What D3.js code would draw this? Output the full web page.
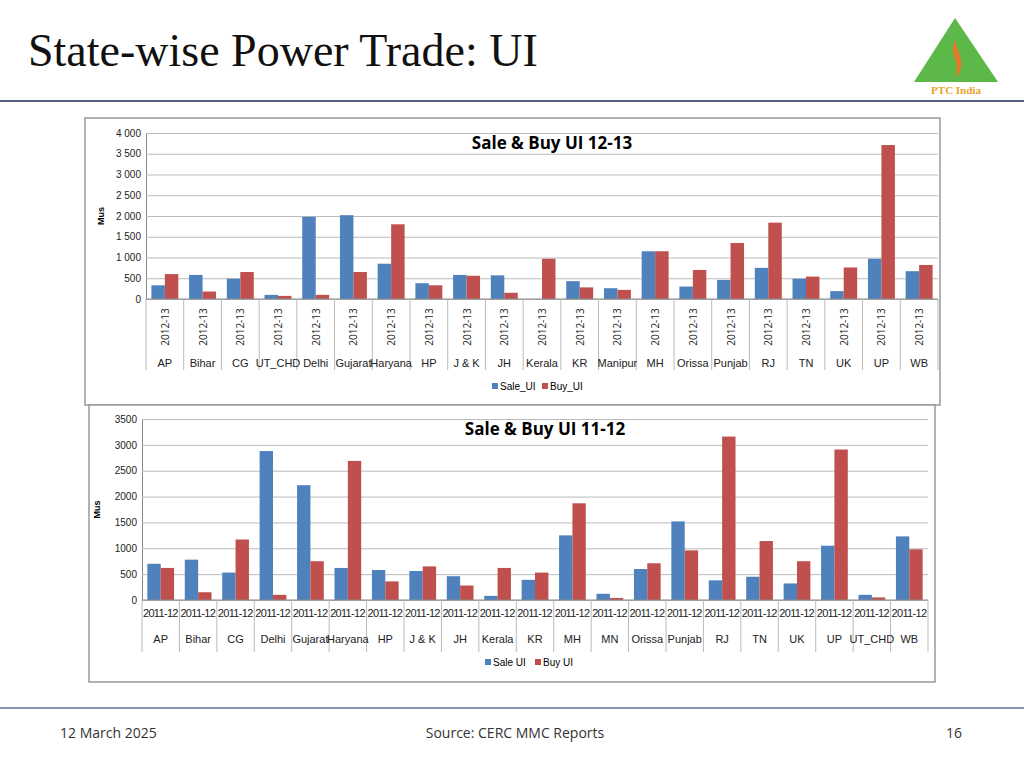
<!DOCTYPE html>
<html><head><meta charset="utf-8">
<script src="https://cdn.jsdelivr.net/npm/d3@7"></script>
<style>body{margin:0;background:#fff}svg{display:block}</style>
</head><body><svg id="s" width="1024" height="768"></svg>
<script>
const states1 = ['AP','Bihar','CG','UT_CHD','Delhi','Gujarat','Haryana','HP','J & K','JH','Kerala','KR','Manipur','MH','Orissa','Punjab','RJ','TN','UK','UP','WB']
const sale1 = [330,580,490,100,1980,2020,850,380,580,570,0,430,260,1150,300,460,750,490,190,970,670]
const buy1 = [600,180,650,75,100,650,1800,330,560,150,970,280,220,1150,700,1350,1840,540,760,3710,820]
const ticks1 = [0,500,1000,1500,2000,2500,3000,3500,4000]

const states2 = ['AP','Bihar','CG','Delhi','Gujarat','Haryana','HP','J & K','JH','Kerala','KR','MH','MN','Orissa','Punjab','RJ','TN','UK','UP','UT_CHD','WB']
const sale2 = [700,780,530,2880,2220,620,580,560,460,80,390,1250,120,600,1520,380,450,320,1050,100,1230]
const buy2 = [620,150,1170,100,750,2690,360,650,280,620,530,1870,40,710,960,3160,1140,750,2910,50,980]
const ticks2 = [0,500,1000,1500,2000,2500,3000,3500]

const BLUE = '#4f81bd', RED = '#c0504d'
const svg = d3.select('#s')
const F = 'Liberation Sans Narrow, Liberation Sans, sans-serif'

// header
svg.append('text').attr('x', 28).attr('y', 66).attr('font-family', 'Liberation Serif, serif')
  .attr('font-size', 46).attr('fill', '#111').text('State-wise Power Trade: UI')
svg.append('line').attr('x1', 0).attr('x2', 1024).attr('y1', 101).attr('y2', 101).attr('stroke', '#1f2a5c').attr('stroke-width', 1.5)
svg.append('line').attr('x1', 0).attr('x2', 1024).attr('y1', 708).attr('y2', 708).attr('stroke', '#1f2a5c').attr('stroke-width', 1)

// logo
const logo = svg.append('g')
logo.append('path').attr('d', 'M955,18 L998,82 L914,82 Z').attr('fill', '#5cb848')
logo.append('path').attr('d', 'M955,40 C948,55 962,62 955,78 C968,66 958,55 955,40 Z').attr('fill', '#e8782a')
logo.append('text').attr('x', 956).attr('y', 94).attr('text-anchor', 'middle').attr('font-family', 'Liberation Serif, serif')
  .attr('font-weight', 'bold').attr('font-size', 11).attr('fill', '#e8a32a').text('PTC India')

// footer
const ft = (x, t, a) => svg.append('text').attr('x', x).attr('y', 738).attr('text-anchor', a)
  .attr('font-family', 'Open Sans, sans-serif').attr('font-size', 14).attr('fill', '#333').text(t)
ft(60, '12 March 2025', 'start'); ft(515, 'Source: CERC MMC Reports', 'middle'); ft(962, '16', 'end')

function chart(o) {
  const g = svg.append('g')
  g.append('rect').attr('x', o.box[0]).attr('y', o.box[1]).attr('width', o.box[2]).attr('height', o.box[3])
    .attr('fill', '#fff').attr('stroke', '#999').attr('stroke-width', 1.5)
  const x = d3.scaleBand().domain(o.states).range([o.x0, o.x1])
  const y = d3.scaleLinear().domain([0, o.max]).range([o.y0, o.yt])
  const ins = d3.scaleBand().domain(['s', 'b']).range([0, x.bandwidth()]).paddingInner(0).paddingOuter(0.4)
  g.append('g').attr('transform', `translate(${o.x0},0)`)
    .call(d3.axisLeft(y).tickValues(o.ticks).tickSize(-(o.x1 - o.x0)).tickFormat(d => o.fmt(d)))
    .call(a => a.select('.domain').attr('stroke', '#888'))
    .call(a => a.selectAll('.tick line').attr('stroke', '#bbb'))
    .call(a => a.selectAll('.tick text').attr('font-family', F).attr('font-size', 10).attr('fill', '#222').attr('dx', -2))
  g.append('text').attr('transform', `translate(${o.x0 - 42},${(o.y0 + o.yt) / 2}) rotate(-90)`)
    .attr('text-anchor', 'middle').attr('font-family', 'Liberation Sans, sans-serif').attr('font-weight', 'bold').attr('font-size', 9).text('Mus')
  g.append('text').attr('x', (o.x0 + o.x1) / 2 + 10).attr('y', o.yt + 16).attr('text-anchor', 'middle')
    .attr('font-family', 'Open Sans, sans-serif').attr('font-weight', 'bold').attr('font-size', 17).text(o.title)
  const bars = g.append('g')
  o.states.forEach((st, i) => {
    bars.append('rect').attr('x', x(st) + ins('s')).attr('width', ins.bandwidth()).attr('y', y(o.sale[i])).attr('height', o.y0 - y(o.sale[i])).attr('fill', BLUE)
    bars.append('rect').attr('x', x(st) + ins('b')).attr('width', ins.bandwidth()).attr('y', y(o.buy[i])).attr('height', o.y0 - y(o.buy[i])).attr('fill', RED)
  })
  g.append('line').attr('x1', o.x0).attr('x2', o.x1).attr('y1', o.y0).attr('y2', o.y0).attr('stroke', '#888')
  // category table
  const cat = g.append('g')
  o.states.concat(['']).forEach((st, i) => {
    const xx = i < o.states.length ? x(st) : o.x1
    cat.append('line').attr('x1', xx).attr('x2', xx).attr('y1', o.y0).attr('y2', o.tb).attr('stroke', '#bbb')
  })
  o.states.forEach(st => {
    const cx = x(st) + x.bandwidth() / 2
    if (o.rot) cat.append('text').attr('transform', `translate(${cx + 4},${o.yr}) rotate(-90)`).attr('text-anchor', 'middle')
      .attr('font-family', 'Open Sans, sans-serif').attr('font-size', 10).attr('fill', '#222').text(o.year)
    else cat.append('text').attr('x', cx).attr('y', o.yr).attr('text-anchor', 'middle')
      .attr('font-family', F).attr('font-size', 11).attr('fill', '#222').attr('textLength', x.bandwidth() - 2).text(o.year)
    cat.append('text').attr('x', cx).attr('y', o.yn).attr('text-anchor', 'middle').attr('font-family', F)
      .attr('font-size', 11).attr('fill', '#222').text(st)
  })
  const lg = g.append('g').attr('transform', `translate(${(o.x0 + o.x1) / 2 - 50},${o.yl})`)
  o.leg.forEach((t, i) => {
    lg.append('rect').attr('x', i * 50).attr('y', -7).attr('width', 6).attr('height', 6).attr('fill', i ? RED : BLUE)
    lg.append('text').attr('x', i * 50 + 8).attr('y', 0).attr('font-family', F).attr('font-size', 10).text(t)
  })
}

chart({ box: [85, 118, 855, 287], x0: 146, x1: 938, y0: 299, yt: 133, max: 4000, ticks: ticks1,
  fmt: d => d >= 1000 ? d3.format(',')(d).replace(',', ' ') : d, states: states1, sale: sale1, buy: buy1,
  title: 'Sale & Buy UI 12-13', year: '2012-13', rot: true, yr: 327, yn: 367, tb: 370, yl: 390, leg: ['Sale_UI', 'Buy_UI'] })
chart({ box: [89, 405, 846, 277], x0: 142, x1: 928, y0: 600, yt: 419, max: 3500, ticks: ticks2,
  fmt: d => d, states: states2, sale: sale2, buy: buy2,
  title: 'Sale & Buy UI 11-12', year: '2011-12', rot: false, yr: 617, yn: 643, tb: 652, yl: 666, leg: ['Sale UI', 'Buy UI'] })
</script></body></html>
